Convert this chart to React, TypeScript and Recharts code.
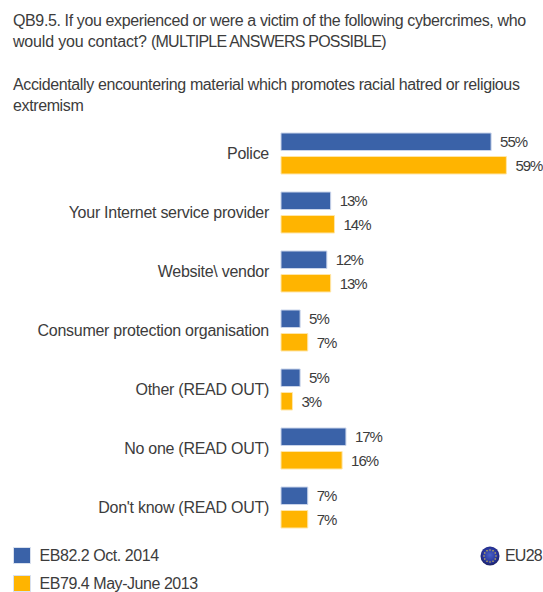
import { Bar, BarChart, LabelList, XAxis, YAxis } from "recharts";

const categories = [
  "Police",
  "Your Internet service provider",
  "Website\\ vendor",
  "Consumer protection organisation",
  "Other (READ OUT)",
  "No one (READ OUT)",
  "Don't know (READ OUT)",
];
const oct2014 = [55, 13, 12, 5, 5, 17, 7];
const mayJune2013 = [59, 14, 13, 7, 3, 16, 7];
const starAngles = [0, 30, 60, 90, 120, 150, 180, 210, 240, 270, 300, 330];

const BLUE = "#3A62A8";
const YELLOW = "#FFB400";
const TEXT = "#3c3c3c";
const FONT = "'Liberation Sans', Arial, sans-serif";

const rows = categories.map((name, i) => ({
  name,
  oct2014: oct2014[i],
  mayJune2013: mayJune2013[i],
}));

const valueLabelStyle = { fontSize: 15, letterSpacing: -1, fill: TEXT, fontFamily: FONT };

function LegendRow({ top, color, label }: { top: number; color: string; label: string }) {
  return (
    <>
      <div
        style={{
          position: "absolute",
          left: 13,
          top,
          width: 18,
          height: 17,
          background: color,
          border: "1px solid #d8e0ee",
          boxSizing: "border-box",
        }}
      />
      <div
        style={{
          position: "absolute",
          left: 39.5,
          top: top - 1,
          fontSize: 16,
          lineHeight: "19px",
          letterSpacing: -0.45,
          whiteSpace: "nowrap",
        }}
      >
        {label}
      </div>
    </>
  );
}

function EuBadge() {
  return (
    <svg width={20} height={20} style={{ position: "absolute", left: 480, top: 546 }}>
      <defs>
        <radialGradient id="euGlobe" cx="50%" cy="45%" r="55%">
          <stop offset="0%" stopColor="#4a62c8" />
          <stop offset="70%" stopColor="#27349a" />
          <stop offset="100%" stopColor="#1a2060" />
        </radialGradient>
      </defs>
      <circle cx={10} cy={10} r={9.5} fill="url(#euGlobe)" />
      {starAngles.map((a) => (
        <circle
          key={a}
          cx={10 + 6 * Math.cos((a * Math.PI) / 180)}
          cy={10 + 6 * Math.sin((a * Math.PI) / 180)}
          r={0.7}
          fill="#e8d040"
        />
      ))}
    </svg>
  );
}

export default function App() {
  return (
    <div
      style={{
        position: "absolute",
        left: 0,
        top: 0,
        width: 543,
        height: 592,
        overflow: "hidden",
        background: "#fff",
        fontFamily: FONT,
        color: TEXT,
      }}
    >
      <div
        style={{
          position: "absolute",
          left: 13,
          top: 10,
          fontSize: 16,
          lineHeight: "21px",
          letterSpacing: -0.38,
          whiteSpace: "nowrap",
        }}
      >
        QB9.5. If you experienced or were a victim of the following cybercrimes, who
        <br />
        <span style={{ letterSpacing: -0.18 }}>would you contact? </span>
        <span style={{ letterSpacing: -0.78 }}>(MULTIPLE ANSWERS POSSIBLE)</span>
      </div>
      <div
        style={{
          position: "absolute",
          left: 13,
          top: 74,
          fontSize: 16,
          lineHeight: "21px",
          letterSpacing: -0.38,
          whiteSpace: "nowrap",
        }}
      >
        Accidentally encountering material which promotes racial hatred or religious
        <br />
        extremism
      </div>

      <div style={{ position: "absolute", left: 0, top: 0 }}>
        <BarChart
          width={543}
          height={592}
          data={rows}
          layout="vertical"
          margin={{ top: 124, right: 32.8, bottom: 55, left: 0 }}
          barSize={17.5}
          barGap={6}
        >
          <XAxis type="number" domain={[0, 60]} hide />
          <YAxis
            type="category"
            dataKey="name"
            width={281}
            interval={0}
            axisLine={false}
            tickLine={false}
            tickMargin={6}
            tick={{ fontSize: 16, letterSpacing: -0.27, fill: TEXT, fontFamily: FONT }}
          />
          <Bar dataKey="oct2014" fill={BLUE} stroke="#c9d4ea" strokeWidth={1} isAnimationActive={false}>
            <LabelList
              dataKey="oct2014"
              position="right"
              offset={9}
              formatter={(v: number) => `${v}%`}
              style={valueLabelStyle}
            />
          </Bar>
          <Bar dataKey="mayJune2013" fill={YELLOW} stroke="#ffe6a8" strokeWidth={1} isAnimationActive={false}>
            <LabelList
              dataKey="mayJune2013"
              position="right"
              offset={9}
              formatter={(v: number) => `${v}%`}
              style={valueLabelStyle}
            />
          </Bar>
        </BarChart>
      </div>

      <LegendRow top={547} color={BLUE} label="EB82.2 Oct. 2014" />
      <LegendRow top={575} color={YELLOW} label="EB79.4 May-June 2013" />
      <EuBadge />
      <div
        style={{
          position: "absolute",
          left: 505,
          top: 546,
          fontSize: 16,
          lineHeight: "19px",
          letterSpacing: -0.8,
          whiteSpace: "nowrap",
        }}
      >
        EU28
      </div>
    </div>
  );
}
